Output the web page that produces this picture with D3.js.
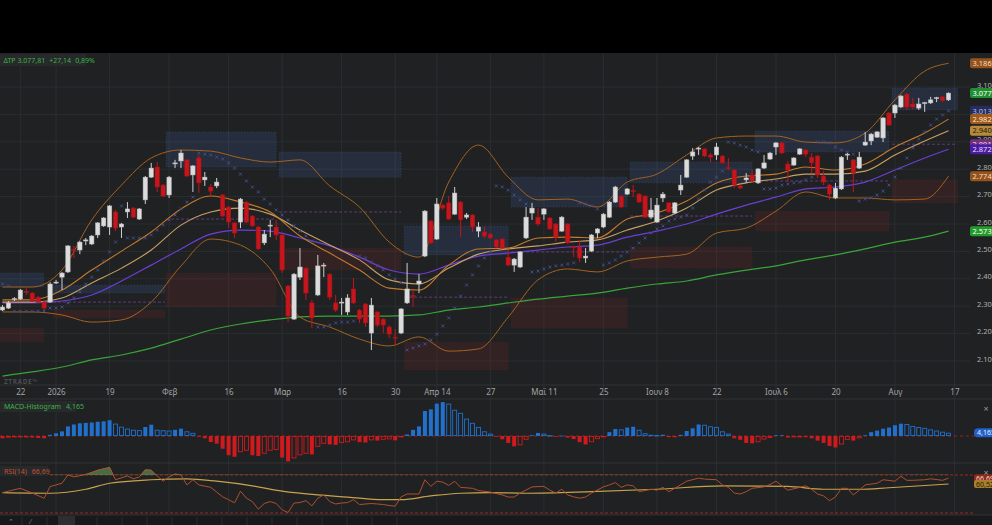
<!DOCTYPE html>
<html>
<head>
<meta charset="utf-8">
<script src="https://cdn.jsdelivr.net/npm/d3@7"></script>
<style>
  body { margin: 0; background: #000; overflow: hidden; }
  svg { display: block; }
  text { font-family: "Noto Sans", Roboto, "DejaVu Sans", sans-serif; }
</style>
</head>
<body>
<svg id="chart" width="992" height="525"></svg>
<script>
// daily candles [open, high, low, close], Dec 17 -> Aug 14
const ohlc = [
  [2286,2304,2282,2297],[2293,2319,2290,2312],[2326,2333,2319,2328],[2326,2363,2323,2359],[2354,2366,2341,2350],
  [2348,2352,2315,2319],[2333,2337,2312,2315],[2315,2319,2286,2293],[2315,2388,2312,2381],[2386,2396,2381,2388],
  [2406,2425,2359,2421],[2425,2523,2421,2520],[2507,2520,2476,2503],[2505,2538,2490,2534],[2538,2549,2523,2542],
  [2527,2560,2523,2556],[2560,2607,2549,2604],[2593,2625,2589,2622],[2589,2669,2560,2666],[2644,2651,2574,2585],
  [2589,2604,2549,2600],[2644,2680,2622,2655],[2658,2662,2622,2625],[2618,2658,2615,2655],[2688,2775,2673,2771],
  [2771,2823,2768,2804],[2808,2826,2717,2735],[2742,2746,2698,2702],[2706,2775,2695,2771],[2821,2834,2804,2823],
  [2830,2870,2804,2859],[2834,2837,2771,2775],[2779,2815,2717,2812],[2841,2852,2713,2750],[2761,2790,2739,2771],
  [2735,2746,2698,2720],[2739,2768,2731,2753],[2706,2709,2625,2629],[2662,2666,2585,2607],[2604,2607,2549,2567],
  [2607,2695,2585,2691],[2680,2684,2604,2607],[2629,2633,2589,2593],[2589,2593,2505,2509],[2531,2578,2523,2563],
  [2593,2615,2552,2596],[2589,2615,2542,2560],[2560,2563,2421,2432],[2374,2377,2242,2264],[2253,2421,2250,2417],
  [2406,2512,2396,2443],[2439,2443,2323,2348],[2312,2323,2220,2257],[2341,2487,2337,2447],[2448,2458,2406,2450],
  [2417,2421,2323,2333],[2312,2341,2279,2286],[2312,2330,2268,2315],[2279,2344,2268,2330],[2363,2403,2308,2312],
  [2286,2290,2239,2253],[2308,2312,2224,2239],[2202,2330,2140,2304],[2279,2282,2224,2231],[2253,2257,2202,2231],
  [2224,2231,2184,2198],[2187,2217,2155,2184],[2202,2293,2198,2290],[2312,2458,2308,2363],[2339,2359,2297,2335],
  [2381,2417,2348,2392],[2483,2651,2479,2647],[2611,2615,2527,2531],[2545,2695,2542,2673],[2669,2673,2651,2658],
  [2677,2702,2615,2618],[2636,2735,2633,2713],[2680,2684,2552,2615],[2625,2640,2618,2633],[2633,2636,2571,2589],
  [2574,2607,2552,2589],[2571,2589,2549,2556],[2563,2567,2545,2549],[2542,2545,2512,2516],[2545,2549,2509,2512],
  [2479,2505,2447,2450],[2450,2476,2425,2472],[2443,2501,2439,2498],[2549,2662,2545,2625],[2640,2677,2615,2658],
  [2625,2658,2593,2600],[2636,2658,2615,2655],[2622,2625,2578,2582],[2600,2604,2534,2552],[2574,2629,2571,2625],
  [2600,2604,2527,2531],[2518,2520,2479,2514],[2516,2542,2461,2476],[2476,2512,2458,2483],[2501,2563,2498,2560],
  [2567,2585,2549,2582],[2589,2640,2585,2636],[2625,2684,2622,2680],[2680,2739,2677,2735],[2702,2706,2658,2662],
  [2709,2731,2706,2728],[2722,2742,2698,2718],[2709,2713,2677,2680],[2702,2706,2622,2625],[2625,2695,2618,2651],
  [2607,2695,2604,2669],[2695,2717,2680,2709],[2677,2680,2640,2644],[2640,2680,2636,2677],[2724,2779,2706,2742],
  [2771,2837,2768,2834],[2848,2877,2834,2863],[2876,2881,2852,2877],[2874,2877,2844,2848],[2852,2859,2826,2844],
  [2852,2896,2834,2881],[2848,2852,2819,2823],[2806,2841,2797,2803],[2797,2801,2731,2742],[2739,2742,2728,2731],
  [2761,2786,2750,2768],[2779,2797,2753,2757],[2750,2804,2746,2801],[2804,2852,2801,2823],[2837,2863,2834,2859],
  [2881,2899,2852,2896],[2896,2899,2855,2859],[2819,2830,2753,2797],[2815,2844,2812,2841],[2855,2877,2852,2874],
  [2870,2874,2844,2855],[2844,2859,2786,2823],[2848,2852,2768,2779],[2775,2793,2742,2753],[2742,2746,2688,2709],
  [2695,2750,2691,2731],[2728,2848,2724,2844],[2853,2859,2834,2855],[2834,2837,2717,2786],[2804,2863,2801,2844],
  [2888,2936,2885,2899],[2903,2932,2888,2928],[2917,2939,2914,2936],[2914,2990,2899,2987],[3005,3009,2958,2961],
  [3005,3038,2987,3034],[3027,3071,3023,3067],[3074,3078,3016,3027],[3038,3060,3020,3027],[3023,3060,3016,3038],
  [3041,3046,3009,3043],[3042,3064,3038,3053],[3059,3064,3045,3061],[3064,3067,3045,3050.67],[3053,3080,3049,3077.81]
];

// parabolic SAR, one per candle
const psar = [
  2381,2374,2282,2282,2282,2282,2282,2282,2293,2293,2297,2312,2330,2352,2381,2406,2432,2465,2498,2534,
  2666,2549,2549,2549,2549,2560,2578,2596,2615,2633,2655,2680,2698,2859,2855,2852,2844,2837,2823,2804,
  2782,2757,2735,2717,2691,2673,2651,2633,2615,2593,2574,2556,2538,2224,2224,2231,2239,2242,2242,2246,
  2483,2476,2461,2447,2432,2414,2399,2385,2140,2147,2155,2162,2177,2198,2228,2257,2293,2337,2377,2414,
  2447,2476,2498,2739,2735,2724,2706,2688,2673,2425,2428,2436,2443,2447,2450,2454,2458,2677,2673,2666,
  2655,2450,2458,2469,2483,2498,2512,2531,2549,2567,2582,2593,2611,2618,2625,2633,2658,2691,2724,2753,
  2771,2793,2899,2896,2888,2881,2870,2863,2728,2728,2731,2742,2746,2750,2753,2761,2771,2899,2899,2896,
  2881,2870,2863,2855,2684,2691,2695,2706,2720,2742,2771,2804,2841,2877,2910,2936,2961,2983,2998,3013
];

// indicator lines read every 5 bars
const sampleIdx = [0,5,10,15,20,25,30,35,40,45,50,55,60,65,70,75,80,85,90,95,100,105,110,115,120,125,130,135,140,145,150,155,159];
const bbUpper = [2370,2370,2432,2615,2742,2841,2870,2866,2841,2826,2834,2739,2662,2534,2479,2753,2888,2771,2688,2691,2662,2753,2782,2852,2914,2921,2921,2899,2896,2932,3053,3158,3186.4];
const bbLower = [2279,2279,2268,2242,2250,2315,2447,2545,2523,2436,2260,2224,2180,2155,2188,2136,2144,2260,2396,2436,2425,2465,2479,2490,2567,2585,2647,2717,2695,2695,2688,2691,2774.6];
const bbBasis = [2323,2323,2359,2432,2501,2571,2655,2702,2680,2644,2556,2494,2432,2366,2359,2450,2509,2512,2549,2552,2549,2618,2640,2684,2750,2775,2782,2808,2797,2819,2881,2932,2982.8];
const emaLine = [2315,2315,2330,2385,2439,2505,2596,2644,2658,2636,2578,2523,2469,2396,2381,2439,2490,2509,2520,2534,2542,2578,2611,2658,2724,2750,2764,2782,2782,2793,2852,2903,2940.5];
const sma50 = [2312,2312,2319,2341,2392,2450,2509,2563,2578,2574,2549,2520,2479,2432,2417,2450,2483,2494,2505,2516,2523,2552,2574,2600,2636,2669,2698,2728,2735,2753,2797,2841,2872.9];
const sma200 = [2045,2060,2078,2104,2122,2147,2180,2213,2235,2250,2261,2264,2264,2264,2268,2286,2297,2312,2326,2337,2348,2366,2381,2392,2414,2432,2447,2469,2487,2509,2534,2552,2573.9];

// monthly zones: [startIdx, endIdx, blueLo, blueHi, redLo, redHi, pivot]
const zones = [
  [-1, 6.9, 2370, 2421, 2169, 2220, 2315],
  [8.5, 27.3, 2348, 2377, 2257, 2286, 2315],
  [27.5, 46, 2808, 2936, 2297, 2421, 2618],
  [46.5, 67, 2771, 2863, 2432, 2512, 2644],
  [67.5, 85, 2487, 2593, 2067, 2169, 2333],
  [85.5, 105, 2662, 2771, 2220, 2330, 2498],
  [105.5, 126, 2750, 2826, 2439, 2516, 2629],
  [126.5, 149, 2863, 2939, 2574, 2647, 2757],
  [149.5, 160.5, 3016, 3096, 2677, 2761, 2891.2]
];

const macdHist = [
  -3,-2,-1.5,-1,-0.5,-2,-2.5,-3,1.5,3.5,6,12.5,15,16.5,17,17.5,18.5,19,20.5,16,
  12,9.5,8,7.5,11.7,14.7,8,7.4,7,8,9.5,6,4,-1,-3,-7.8,-10,-16.5,-25,-27,
  -21,-19,-25,-26,-23,-19,-18,-28,-33,-29,-25,-23,-24,-14,-10,-11,-11.5,-9,-8,-5.6,
  -8,-8.5,-5.6,-6,-4.8,-4.3,-5.6,-1.3,2,8,12.5,32.5,34.6,42,44,42,34,30,22.5,17,
  11.7,6,3,-1,-4.3,-9,-13.4,-12,-4.8,1,4,3,1,-1,0.5,-2,-4,-8,-11,-8,
  -4,-1,5,9,8.5,11,12,8,3.5,1.5,1.3,1.7,-1.5,-1.7,1.5,6.5,10,15,14.5,12.5,
  11.7,6,3,-3,-5,-9,-9.5,-8,-4.5,-2.5,1,1,-2,-1.5,-1,-1.5,-3,-6,-9,-13,
  -15,-11,-5,-6,-3,1,5,7,9.5,11,14,16,15.5,13,11.5,10.5,8.5,7,5.5,4.165
];

// RSI(14) and its average as [barIdx, value]
const rsi = [
  [0,51.4],[1,53],[3,56],[5,51],[7,45.5],[8,57.8],[10,61.3],[11,70],[12,68],[14,70.5],[16,75],[18,78],[19,65],
  [21,69],[22,66],[23,68],[24,75.5],[25,75],[26,69],[27,63.5],[28,68],[29,71],[30,70],[31,59.6],[32,65],[33,59.6],
  [35,57],[37,47],[38,44],[39,40.7],[40,53],[41,45.6],[42,42],[43,34],[44,40],[45,42],[46,40],[47,33.4],[48,30.5],
  [49,40.5],[50,41],[51,43],[52,37.5],[53,45.6],[54,49],[55,42],[56,39.5],[57,40.5],[58,41],[59,44],[60,38.9],
  [62,40],[63,39.5],[64,38.9],[65,37.9],[66,37.2],[67,47],[68,50],[70,50],[71,65],[72,58],[73,63.5],[74,62.5],
  [75,59],[76,63.5],[77,57],[79,56],[80,53.7],[82,52],[84,49],[85,46.8],[86,46.8],[87,51],[89,57.5],[91,58],
  [92,54],[93,51],[94,55],[95,49],[96,47],[97,45.6],[98,46.8],[99,51],[101,57.5],[102,59.6],[103,62],[104,57],
  [105,59.6],[106,58.6],[107,52.5],[109,55],[110,54],[111,57],[112,52.5],[113,56],[115,63.5],[117,66.7],[118,65.7],
  [120,65],[121,59.6],[122,57],[123,51],[124,50],[125,52.5],[126,56],[128,57.5],[129,60],[130,63.5],[131,58.6],
  [132,54],[134,57],[135,58.6],[136,55],[137,50],[138,48],[139,43],[140,46.8],[141,56],[142,56],[143,49],[144,54],
  [145,59.6],[147,61.3],[148,65],[150,63.5],[151,68.7],[152,64.4],[153,64.4],[155,65],[156,66],[158,64.4],[159,66.69]
];
const rsiMa = [
  [0,51.4],[8,50.8],[14,55],[18,61.3],[25,65],[31,66],[36,63.5],[42,58.6],[47,53],[53,49],[58,46.8],[64,44],
  [67,44],[72,48],[77,50.8],[82,51.4],[88,50.8],[99,52.5],[110,55],[121,58.6],[132,58],[138,55],[144,55],
  [149,56.6],[159,60.52]
];

const xTicks = [3, 9, 18, 28, 38, 47, 57, 66, 73, 82, 91, 101, 110, 120, 130, 140, 150, 160];
const xTickLabels = ["22","2026","19","Φεβ","16","Μαρ","16","30","Απρ 14","27","Μαϊ 11","25","Ιουν 8","22","Ιουλ 6","20","Αυγ","17"];
const priceTicks = [2100, 2200, 2300, 2400, 2500, 2600, 2700, 2800, 2900, 3000, 3100];

const loc = d3.formatLocale({ decimal: ",", thousands: ".", grouping: [3], currency: ["", ""] });
const fmtInt = loc.format(",");
const fmt2 = loc.format(",.2f");
const fmt3 = loc.format(",.3f");

const svg = d3.select("#chart");

const x = d3.scaleLinear().domain([0, 159]).range([2.5, 948.5]);
const y = d3.scaleLinear().domain([2100, 3100]).range([361, 87]);
const yMacd = d3.scaleLinear().domain([-40, 40]).range([466.8, 405.2]);
const yRsi = d3.scaleLinear().domain([30, 70]).range([513, 475]);

const GRID = "#2b2e30";

// backgrounds
svg.append("rect").attr("width", 992).attr("height", 525).attr("fill", "#000");
svg.append("rect").attr("y", 53).attr("width", 992).attr("height", 462).attr("fill", "#1f2123");
svg.append("rect").attr("y", 515).attr("width", 992).attr("height", 10).attr("fill", "#18191a");

const defs = svg.append("defs");
defs.append("clipPath").attr("id", "mainClip")
  .append("rect").attr("x", 0).attr("y", 53).attr("width", 962).attr("height", 332);
defs.append("clipPath").attr("id", "rsiOver")
  .append("rect").attr("x", 0).attr("y", 463).attr("width", 962).attr("height", yRsi(70) - 463);

// vertical grid through all panes
svg.append("g").selectAll("line").data(xTicks).join("line")
  .attr("x1", d => x(d)).attr("x2", d => x(d))
  .attr("y1", 53).attr("y2", 515)
  .attr("stroke", GRID).attr("stroke-width", 1);

// horizontal price grid
svg.append("g").selectAll("line").data(priceTicks).join("line")
  .attr("x1", 0).attr("x2", 970)
  .attr("y1", d => y(d)).attr("y2", d => y(d))
  .attr("stroke", GRID).attr("stroke-width", 1);

// pane separators
svg.append("g").selectAll("line").data([385, 399, 463, 515]).join("line")
  .attr("x1", 0).attr("x2", 992).attr("y1", d => d).attr("y2", d => d)
  .attr("stroke", "#303335").attr("stroke-width", 1);

const main = svg.append("g").attr("clip-path", "url(#mainClip)");

// zones
const zg = main.append("g");
zones.forEach(z => {
  const [s, e, bLo, bHi, rLo, rHi, piv] = z;
  zg.append("rect")
    .attr("x", x(s)).attr("width", x(e) - x(s))
    .attr("y", y(bHi)).attr("height", y(bLo) - y(bHi))
    .attr("fill", "rgba(66,96,160,0.22)")
    .attr("stroke", "rgba(90,120,180,0.35)").attr("stroke-dasharray", "1,2").attr("stroke-width", 0.8);
  zg.append("rect")
    .attr("x", x(s)).attr("width", x(e) - x(s))
    .attr("y", y(rHi)).attr("height", y(rLo) - y(rHi))
    .attr("fill", "rgba(110,40,38,0.26)")
    .attr("stroke", "rgba(130,50,50,0.3)").attr("stroke-dasharray", "1,2").attr("stroke-width", 0.8);
  zg.append("line")
    .attr("x1", x(s)).attr("x2", x(e))
    .attr("y1", y(piv)).attr("y2", y(piv))
    .attr("stroke", "#643a78").attr("stroke-width", 1).attr("stroke-dasharray", "3,2");
});

// indicator lines
const sampled = arr => arr.map((v, k) => [sampleIdx[k], v]);
const line = d3.line().x(d => x(d[0])).y(d => y(d[1])).curve(d3.curveMonotoneX);
const drawLine = (data, color, w) => main.append("path").datum(data)
  .attr("fill", "none").attr("stroke", color).attr("stroke-width", w).attr("d", line);

drawLine(sampled(sma200), "#3aa43a", 1.2);
drawLine(sampled(sma50), "#6b3fd6", 1.2);
drawLine(sampled(emaLine), "#c9a064", 1.1);
drawLine(sampled(bbBasis), "#c47a2a", 1.1);
drawLine(sampled(bbUpper), "#a5621f", 1);
drawLine(sampled(bbLower), "#a5621f", 1);

// PSAR crosses
main.append("g").selectAll("path").data(psar).join("path")
  .attr("transform", (d, i) => `translate(${x(i)},${y(d)})`)
  .attr("d", "M-1.5,-1.5L1.5,1.5M-1.5,1.5L1.5,-1.5")
  .attr("stroke", "#434c88").attr("stroke-width", 1);

// candles
const cg = main.append("g");
const up = d => d[3] >= d[0];
cg.selectAll("line").data(ohlc).join("line")
  .attr("x1", (d, i) => x(i)).attr("x2", (d, i) => x(i))
  .attr("y1", d => y(d[1])).attr("y2", d => y(d[2]))
  .attr("stroke", d => up(d) ? "#cfcfcf" : "#c4161c").attr("stroke-width", 1);
cg.selectAll("rect").data(ohlc).join("rect")
  .attr("x", (d, i) => x(i) - 2.2).attr("width", 4.4)
  .attr("y", d => y(Math.max(d[0], d[3])))
  .attr("height", d => Math.max(1, Math.abs(y(d[0]) - y(d[3]))))
  .attr("fill", d => up(d) ? "#dcdcdc" : "#c4161c")
  .attr("stroke", d => up(d) ? "#b8b8b8" : "#a81216").attr("stroke-width", 0.5);

// price axis
const pAxis = svg.append("g").attr("transform", "translate(975,0)")
  .call(d3.axisRight(y).tickValues(priceTicks).tickFormat(fmtInt).tickSize(0));
pAxis.select(".domain").remove();
pAxis.selectAll("text").attr("fill", "#b0b0b0").attr("font-size", 7.5).attr("dy", "0.0em").attr("x", 2);

// time axis
const tAxis = svg.append("g").attr("transform", "translate(0,388)")
  .call(d3.axisBottom(x).tickValues(xTicks).tickFormat((d, k) => xTickLabels[k]).tickSize(0));
tAxis.select(".domain").remove();
tAxis.selectAll("text").attr("fill", "#a4a4a4").attr("font-size", 8).attr("dy", "0.55em");

// watermark
svg.append("text").attr("x", 4).attr("y", 384).text("ZTRADE™")
  .attr("fill", "#4a4d50").attr("font-size", 6.5).attr("font-weight", 700).attr("letter-spacing", 0.6);

// right-edge value tags
const last = a => a[a.length - 1];
const tags = [
  [last(bbUpper), "#96521b", "#f3dcc4"],
  [last(ohlc)[3], "#1f8f30", "#ffffff"],
  [last(psar), "#262c5c", "#b8c0ee"],
  [last(bbBasis), "#a0581d", "#fbe6d2"],
  [last(emaLine), "#b58a3c", "#201808"],
  [last(zones)[6], "#73307e", "#f2dcf6"],
  [last(sma50), "#4c1ca0", "#e4dcff"],
  [last(bbLower), "#96521b", "#f3dcc4"],
  [last(sma200), "#249a28", "#ffffff"]
];
const tg = svg.append("g");
tags.forEach(([v, bg, fg]) => {
  tg.append("rect").attr("x", 970).attr("y", y(v) - 5).attr("width", 30).attr("height", 10)
    .attr("rx", 2).attr("fill", bg);
  tg.append("text").attr("x", 972.5).attr("y", y(v) + 2.7).text(fmt2(v))
    .attr("fill", fg).attr("font-size", 7.5);
});

// header legend
svg.append("rect").attr("x", 0).attr("y", 54).attr("width", 86).attr("height", 12).attr("fill", "#28292b");
const hdr = svg.append("text").attr("x", 3.5).attr("y", 62.8).attr("font-size", 7).attr("fill", "#3bb44a");
const prevClose = ohlc[ohlc.length - 2][3];
const lastClose = last(ohlc)[3];
hdr.append("tspan").text("ΔΤΡ " + fmt2(lastClose));
hdr.append("tspan").attr("dx", 4).text("+" + fmt2(lastClose - prevClose));
hdr.append("tspan").attr("dx", 4).text(fmt2((lastClose - prevClose) / prevClose * 100) + "%");

// MACD histogram pane
svg.append("line").attr("x1", 0).attr("x2", 975).attr("y1", yMacd(0)).attr("y2", yMacd(0))
  .attr("stroke", "#9c2020").attr("stroke-width", 1).attr("stroke-dasharray", "3,3");
const mg = svg.append("g");
macdHist.forEach((v, i) => {
  const prev = i > 0 ? macdHist[i - 1] : v;
  const pos = v >= 0;
  const solid = pos ? v >= prev : v <= prev;
  const col = pos ? "#2170cc" : "#cf1a1e";
  const y0 = yMacd(Math.max(v, 0)), h = Math.max(0.8, Math.abs(yMacd(v) - yMacd(0)));
  mg.append("rect")
    .attr("x", x(i) - 2).attr("width", 4)
    .attr("y", solid ? y0 : y0 + 0.4).attr("height", solid ? h : Math.max(0.5, h - 0.8))
    .attr("fill", solid ? col : "none")
    .attr("stroke", col).attr("stroke-width", solid ? 0 : 0.9);
});
svg.append("rect").attr("x", 0).attr("y", 401).attr("width", 76).attr("height", 11).attr("fill", "#28292b");
const mt = svg.append("text").attr("x", 4).attr("y", 408.8).attr("font-size", 7).attr("fill", "#3bb44a");
mt.append("tspan").text("MACD-Histogram");
mt.append("tspan").attr("dx", 5).text(fmt3(last(macdHist)));
svg.append("rect").attr("x", 974).attr("y", yMacd(last(macdHist)) - 4.5).attr("width", 26).attr("height", 9)
  .attr("rx", 4).attr("fill", "#2060c8");
svg.append("text").attr("x", 977).attr("y", yMacd(last(macdHist)) + 2.5).text(fmt3(last(macdHist)))
  .attr("fill", "#e8f0ff").attr("font-size", 7);

// RSI pane
svg.append("g").selectAll("line").data([70, 30]).join("line")
  .attr("x1", 0).attr("x2", 975).attr("y1", d => yRsi(d)).attr("y2", d => yRsi(d))
  .attr("stroke", "#a62222").attr("stroke-width", 1).attr("stroke-dasharray", "3,2");
const rArea = d3.area().x(d => x(d[0])).y0(yRsi(70)).y1(d => yRsi(d[1]));
svg.append("path").datum(rsi).attr("clip-path", "url(#rsiOver)")
  .attr("fill", "rgba(88,140,80,0.7)").attr("stroke", "#5c8a52").attr("stroke-width", 0.6).attr("d", rArea);
const rLine = d3.line().x(d => x(d[0])).y(d => yRsi(d[1]));
svg.append("path").datum(rsiMa).attr("fill", "none").attr("stroke", "#c9a24c").attr("stroke-width", 1.2)
  .attr("d", rLine.curve(d3.curveMonotoneX));
svg.append("path").datum(rsi).attr("fill", "none").attr("stroke", "#b0502c").attr("stroke-width", 1)
  .attr("d", d3.line().x(d => x(d[0])).y(d => yRsi(d[1])));
svg.append("rect").attr("x", 0).attr("y", 466).attr("width", 48).attr("height", 10).attr("fill", "#28292b");
const rt = svg.append("text").attr("x", 4).attr("y", 473.5).attr("font-size", 7).attr("fill", "#c0522e");
rt.append("tspan").text("RSI(14)");
rt.append("tspan").attr("dx", 5).text(fmt2(last(rsi)[1]));
[[last(rsi)[1], "#8c2a1c", "#f5d8cc"], [last(rsiMa)[1], "#a87e2c", "#2a1c06"]].forEach(([v, bg, fg]) => {
  svg.append("rect").attr("x", 974).attr("y", yRsi(v) - 4).attr("width", 26).attr("height", 8)
    .attr("rx", 2).attr("fill", bg);
  svg.append("text").attr("x", 976).attr("y", yRsi(v) + 2.5).text(fmt2(v))
    .attr("fill", fg).attr("font-size", 7);
});

// pane close marks
svg.append("g").selectAll("text").data([409, 473]).join("text")
  .attr("x", 986).attr("y", d => d + 3).attr("text-anchor", "middle")
  .attr("font-size", 9).attr("fill", "#9a9a9a").text("×");

// bottom toolbar
svg.append("rect").attr("x", 58).attr("y", 516).attr("width", 17).attr("height", 9).attr("fill", "#2c2e30");
svg.append("g").selectAll("line").data(d3.range(22, 420, 25)).join("line")
  .attr("x1", d => d).attr("x2", d => d).attr("y1", 517).attr("y2", 525)
  .attr("stroke", "#2a2c2e");
svg.append("text").attr("x", 8).attr("y", 524).attr("font-size", 7).attr("fill", "#888").text("⌃");
svg.append("text").attr("x", 30).attr("y", 524).attr("font-size", 7).attr("fill", "#888").text("⁄");
</script>
</body>
</html>
